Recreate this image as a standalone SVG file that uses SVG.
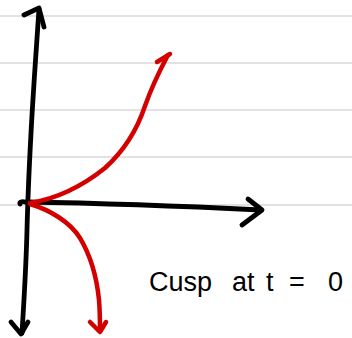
<svg xmlns="http://www.w3.org/2000/svg" width="352" height="338" viewBox="0 0 352 338">
<style>
.rule{stroke:#d9d9d9;stroke-width:1.6;fill:none}
.ax{stroke:#000;stroke-width:4.8;fill:none;stroke-linecap:round;stroke-linejoin:round}
.cv{stroke:#d40000;stroke-width:4.5;fill:none;stroke-linecap:round;stroke-linejoin:round}
.lbl{font-family:"Liberation Sans","DejaVu Sans",sans-serif;font-size:27px;fill:#000}
</style>
<rect width="352" height="338" fill="#fff"/>
<g id="paper">
<line class="rule" x1="0" y1="16" x2="352" y2="16"/>
<line class="rule" x1="0" y1="63" x2="352" y2="63"/>
<line class="rule" x1="0" y1="110" x2="352" y2="110"/>
<line class="rule" x1="0" y1="157" x2="352" y2="157"/>
<line class="rule" x1="0" y1="205" x2="352" y2="205"/>
</g>
<g id="connectors">
<g id="y-axis">
<path class="ax" d="M39,9 C37,40 34,80 32,115 C30,150 28,190 27,230 C26,270 24,300 22,333"/>
<path class="ax" d="M24,15 L39,8 L44,27"/>
<path class="ax" d="M11,322 L21,334 L28,322"/>
</g>
<g id="x-axis">
<path class="ax" d="M20,204 C19,202 22,201 25,202 C90,203 180,206 261,210"/>
<path class="ax" d="M248,199 L262,210 L242,225"/>
</g>
<g id="curve">
<path class="cv" d="M30,203 C55,199 80,188 105,168 C125,150 137,130 145,106 C152,86 160,70 168,55"/>
<path class="cv" d="M157,62 L170,54"/>
<path class="cv" d="M30,204 C50,210 70,222 80,238 C92,258 97,280 99,300 C100,312 100,322 100,331"/>
<path class="cv" d="M90,322 L100,332 L106,322"/>
</g>
</g>
<g id="label">
<text class="lbl" y="291"><tspan x="149">Cusp</tspan> <tspan x="232">at</tspan> <tspan x="266">t</tspan><tspan x="289">=</tspan> <tspan x="328">0</tspan></text>
</g>
</svg>
